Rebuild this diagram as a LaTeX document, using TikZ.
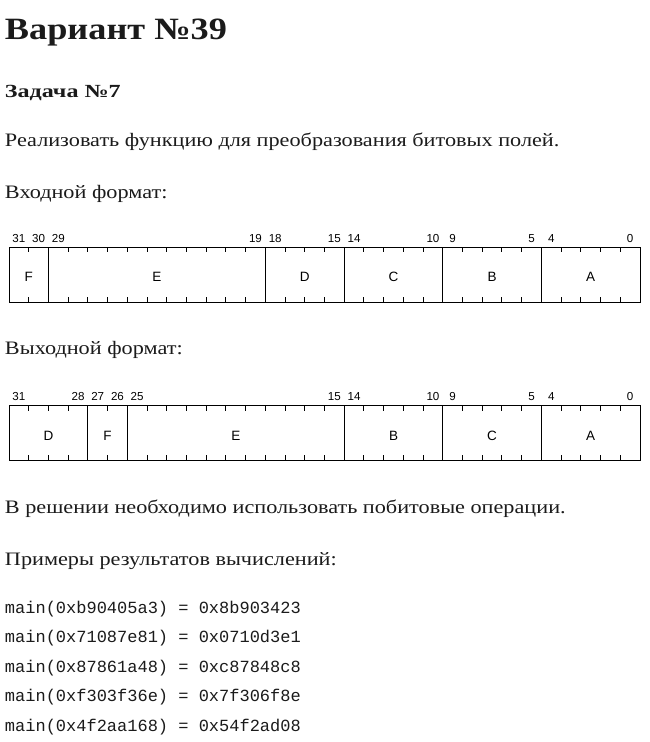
\documentclass[tikz,border=0pt]{standalone}
\usepackage{fontspec}
\setmainfont[FakeStretch=1.17]{Liberation Serif}
\newfontfamily\taskfont[FakeStretch=1.3]{Liberation Serif}
\setsansfont{Liberation Sans}
\setmonofont{Liberation Mono}
\definecolor{ink}{HTML}{1B1B1B}
\begin{document}
\begin{tikzpicture}[x=1pt,y=-1pt,
  txt/.style={anchor=base west, inner sep=0pt, outer sep=0pt, text=ink, font=\fontsize{19}{22}\selectfont},
  code/.style={anchor=base west, inner sep=0pt, outer sep=0pt, text=ink, font=\ttfamily\fontsize{17}{20}\selectfont},
  num/.style={anchor=base, inner sep=0pt, outer sep=0pt, text=black, font=\sffamily\fontsize{11.6}{13}\selectfont},
  flab/.style={anchor=base, inner sep=0pt, outer sep=0pt, text=black, font=\sffamily\fontsize{13.5}{15}\selectfont},
  field/.style={draw=black, line width=1pt, inner sep=0pt, outer sep=0pt, anchor=north west},
  tick/.style={draw=black, line width=1pt}]
\useasboundingbox[fill=white] (0,0) rectangle (650,742);
\def\u{19.71875}
% macro for one field: name, hi, lo, top, bottom, letter, letter baseline
\newcommand\regfield[7]{%
  \pgfmathsetmacro\rfL{9+(31-#2)*\u}%
  \pgfmathsetmacro\rfW{(#2-#3+1)*\u}%
  \pgfmathsetmacro\rfH{#5-#4}%
  \pgfmathsetmacro\rfC{\rfL+\rfW/2}%
  \node[field, minimum width=\rfW pt, minimum height=\rfH pt] (#1) at (\rfL,#4) {};
  \node[flab] (#1-l) at (\rfC,#7) {#6};
}
\newcommand\bitnum[3]{% name, bit, baseline
  \pgfmathsetmacro\rfB{9+(31-#2+0.5)*\u}%
  \node[num] (#1) at (\rfB,#3) {#2};
}
% texts
\node[txt, font=\bfseries\fontsize{31}{36}\selectfont] (title) at (5,39) {Вариант №39};
\node[txt, font=\taskfont\bfseries\fontsize{18.5}{22}\selectfont] (task) at (5,97.5) {Задача №7};
\node[txt] (t1) at (5,146) {Реализовать функцию для преобразования битовых полей.};
\node[txt] (t2) at (5,198) {Входной формат:};
\node[txt] (t3) at (5,354) {Выходной формат:};
\node[txt] (t4) at (5,513) {В решении необходимо использовать побитовые операции.};
\node[txt] (t5) at (5,565) {Примеры результатов вычислений:};
% register 1
\regfield{iF}{31}{30}{247.3}{302.3}{F}{281.7}
\regfield{iE}{29}{19}{247.3}{302.3}{E}{281.7}
\regfield{iD}{18}{15}{247.3}{302.3}{D}{281.7}
\regfield{iC}{14}{10}{247.3}{302.3}{C}{281.7}
\regfield{iB}{9}{5}{247.3}{302.3}{B}{281.7}
\regfield{iA}{4}{0}{247.3}{302.3}{A}{281.7}
\foreach \i in {1,...,31}{
  \draw[tick] ({9+\i*\u},247.3) -- ++(0,5);
  \draw[tick] ({9+\i*\u},302.3) -- ++(0,-5);
}
\foreach \b in {31,30,29,19,18,15,14,10,9,5,4,0}{\bitnum{in\b}{\b}{242.3}}
% register 2
\regfield{oD}{31}{28}{405.7}{460.3}{D}{440}
\regfield{oF}{27}{26}{405.7}{460.3}{F}{440}
\regfield{oE}{25}{15}{405.7}{460.3}{E}{440}
\regfield{oB}{14}{10}{405.7}{460.3}{B}{440}
\regfield{oC}{9}{5}{405.7}{460.3}{C}{440}
\regfield{oA}{4}{0}{405.7}{460.3}{A}{440}
\foreach \i in {1,...,31}{
  \draw[tick] ({9+\i*\u},405.7) -- ++(0,5);
  \draw[tick] ({9+\i*\u},460.3) -- ++(0,-5);
}
\foreach \b in {31,28,27,26,25,15,14,10,9,5,4,0}{\bitnum{out\b}{\b}{400.7}}
% examples
\node[code] (ex1) at (5,613) {main(0xb90405a3) = 0x8b903423};
\node[code] (ex2) at (5,642.5) {main(0x71087e81) = 0x0710d3e1};
\node[code] (ex3) at (5,672) {main(0x87861a48) = 0xc87848c8};
\node[code] (ex4) at (5,701.8) {main(0xf303f36e) = 0x7f306f8e};
\node[code] (ex5) at (5,731.5) {main(0x4f2aa168) = 0x54f2ad08};
\end{tikzpicture}
\end{document}
